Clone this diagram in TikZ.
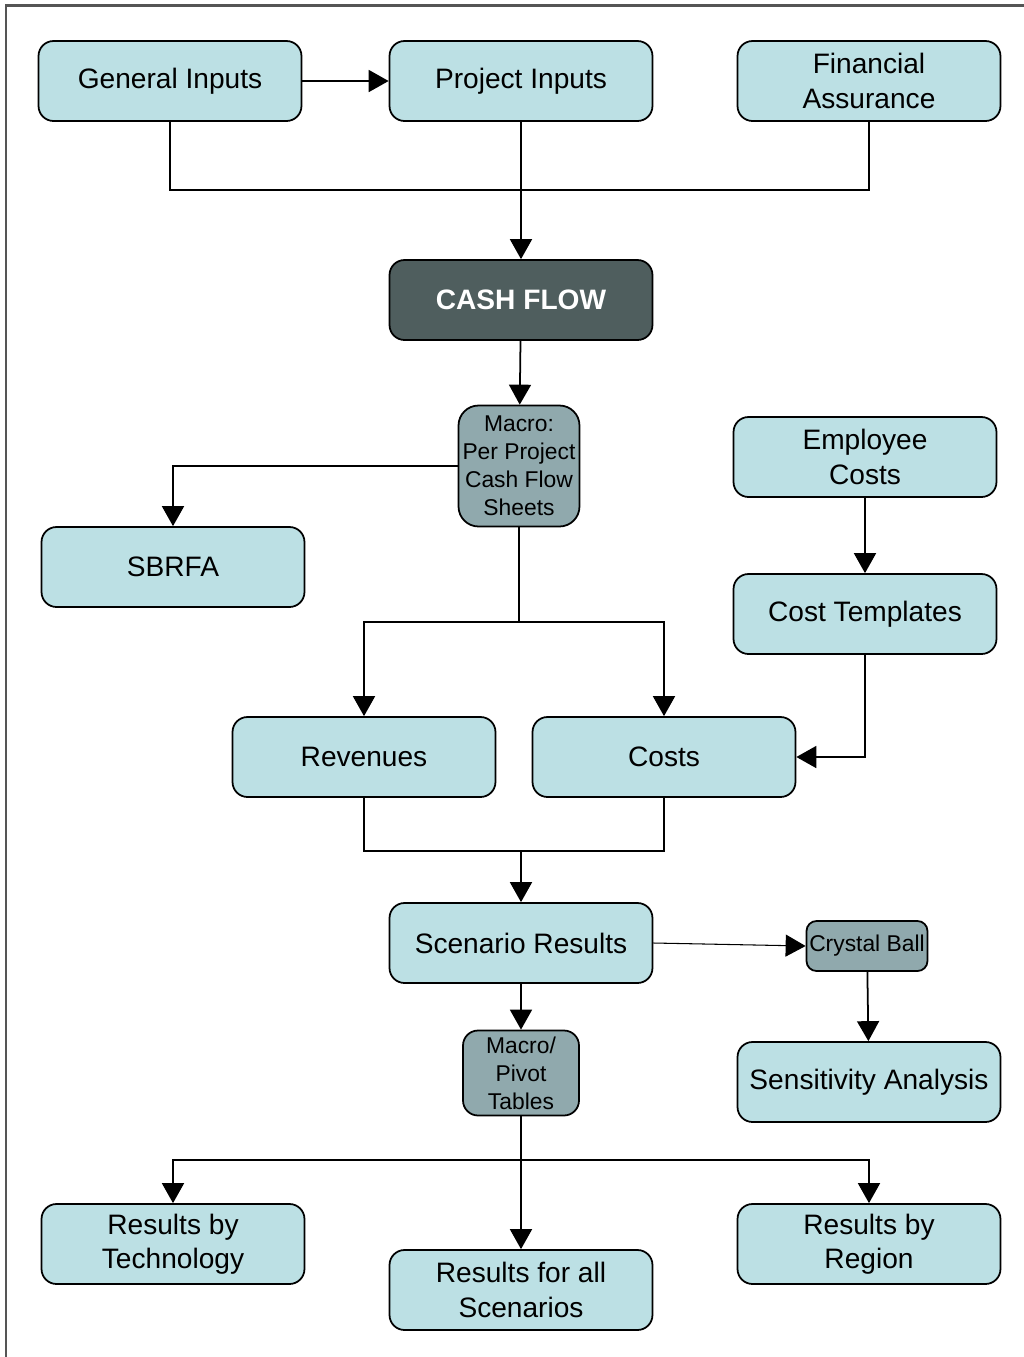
\documentclass[tikz,border=0pt]{standalone}
\usepackage{fontspec}
\setmainfont{Liberation Sans}
\usetikzlibrary{arrows.meta}

\definecolor{boxfill}{HTML}{BCE0E4}
\definecolor{macrofill}{HTML}{90A9AD}
\definecolor{cashfill}{HTML}{4F5E5E}
\definecolor{framegray}{HTML}{555555}

\begin{document}
\begin{tikzpicture}[x=0.02cm, y=-0.02cm]
\useasboundingbox (0,0) rectangle (1024,1357);
\draw [framegray, line width=0.06cm] (6,1357) -- (6,5) -- (1024,5);

\begin{scope}[every node/.style={rectangle, rounded corners=0.3cm, draw, line width=1pt,
        fill=boxfill, align=center, inner sep=0pt, minimum width=5.26cm, minimum height=1.6cm,
        font=\fontsize{16}{19.5}\selectfont}]
    \node (general) at (170, 81) {General Inputs};
    \node (project) at (521, 81) {Project Inputs};
    \node (finance) at (869, 81) {Financial\\Assurance};

    \node (cashflow) at (521, 300) [fill=cashfill, text=white, font=\fontsize{16}{19.5}\selectfont\bfseries] {CASH FLOW};

    \node (macro) at (519, 466) [fill=macrofill, minimum width=2.42cm, minimum height=2.42cm,
        rounded corners=0.4cm, font=\fontsize{13}{16}\selectfont] {Macro:\\Per Project\\Cash Flow\\Sheets};

    \node (employee) at (865, 457) {Employee\\Costs};
    \node (sbrfa) at (173, 567) {SBRFA};
    \node (costtpl) at (865, 614) {Cost Templates};

    \node (revenues) at (364, 757) {Revenues};
    \node (costs) at (664, 757) {Costs};

    \node (scenario) at (521, 943) {Scenario Results};
    \node (crystal) at (867, 946) [fill=macrofill, minimum width=2.42cm, minimum height=1.0cm,
        rounded corners=0.2cm, font=\fontsize{13}{16}\selectfont] {Crystal Ball};

    \node (pivot) at (521, 1073) [fill=macrofill, minimum width=2.32cm, minimum height=1.7cm,
        rounded corners=0.3cm, font=\fontsize{13}{16}\selectfont] {Macro/\\Pivot\\Tables};
    \node (sensitivity) at (869, 1082) {Sensitivity Analysis};

    \node (tech) at (173, 1244) {Results by\\Technology};
    \node (allres) at (521, 1290) {Results for all\\Scenarios};
    \node (region) at (869, 1244) {Results by\\Region};
\end{scope}

\coordinate (inputjoin) at (521, 190);
\coordinate (macrosplit) at (519, 622);
\coordinate (costjoin) at (521, 851);
\coordinate (resultfan) at (521, 1160);

\begin{scope}[>={Triangle[length=0.4cm, width=0.44cm]}, line width=1pt]
    \path [->] (general) edge (project);
    \draw (general.south) |- (inputjoin) -| (finance.south);
    \path [->] (project) edge (cashflow);
    \path [->] (cashflow) edge (macro);

    \draw [->] (macro.west) -| (sbrfa.north);
    \draw (macro.south) -- (macrosplit);
    \draw [->] (macrosplit) -| (revenues.north);
    \draw [->] (macrosplit) -| (costs.north);

    \path [->] (employee) edge (costtpl);
    \draw [->] (costtpl.south) |- (costs.east);

    \draw (revenues.south) |- (costjoin);
    \draw (costs.south) |- (costjoin);
    \draw [->] (costjoin) -- (scenario.north);

    \path [->] (scenario.east) edge [line width=0.6pt] (crystal.west);
    \path [->] (crystal) edge (sensitivity);
    \path [->] (scenario) edge (pivot);

    \path [->] (pivot) edge (allres);
    \draw [->] (resultfan) -| (tech.north);
    \draw [->] (resultfan) -| (region.north);
\end{scope}
\end{tikzpicture}
\end{document}
